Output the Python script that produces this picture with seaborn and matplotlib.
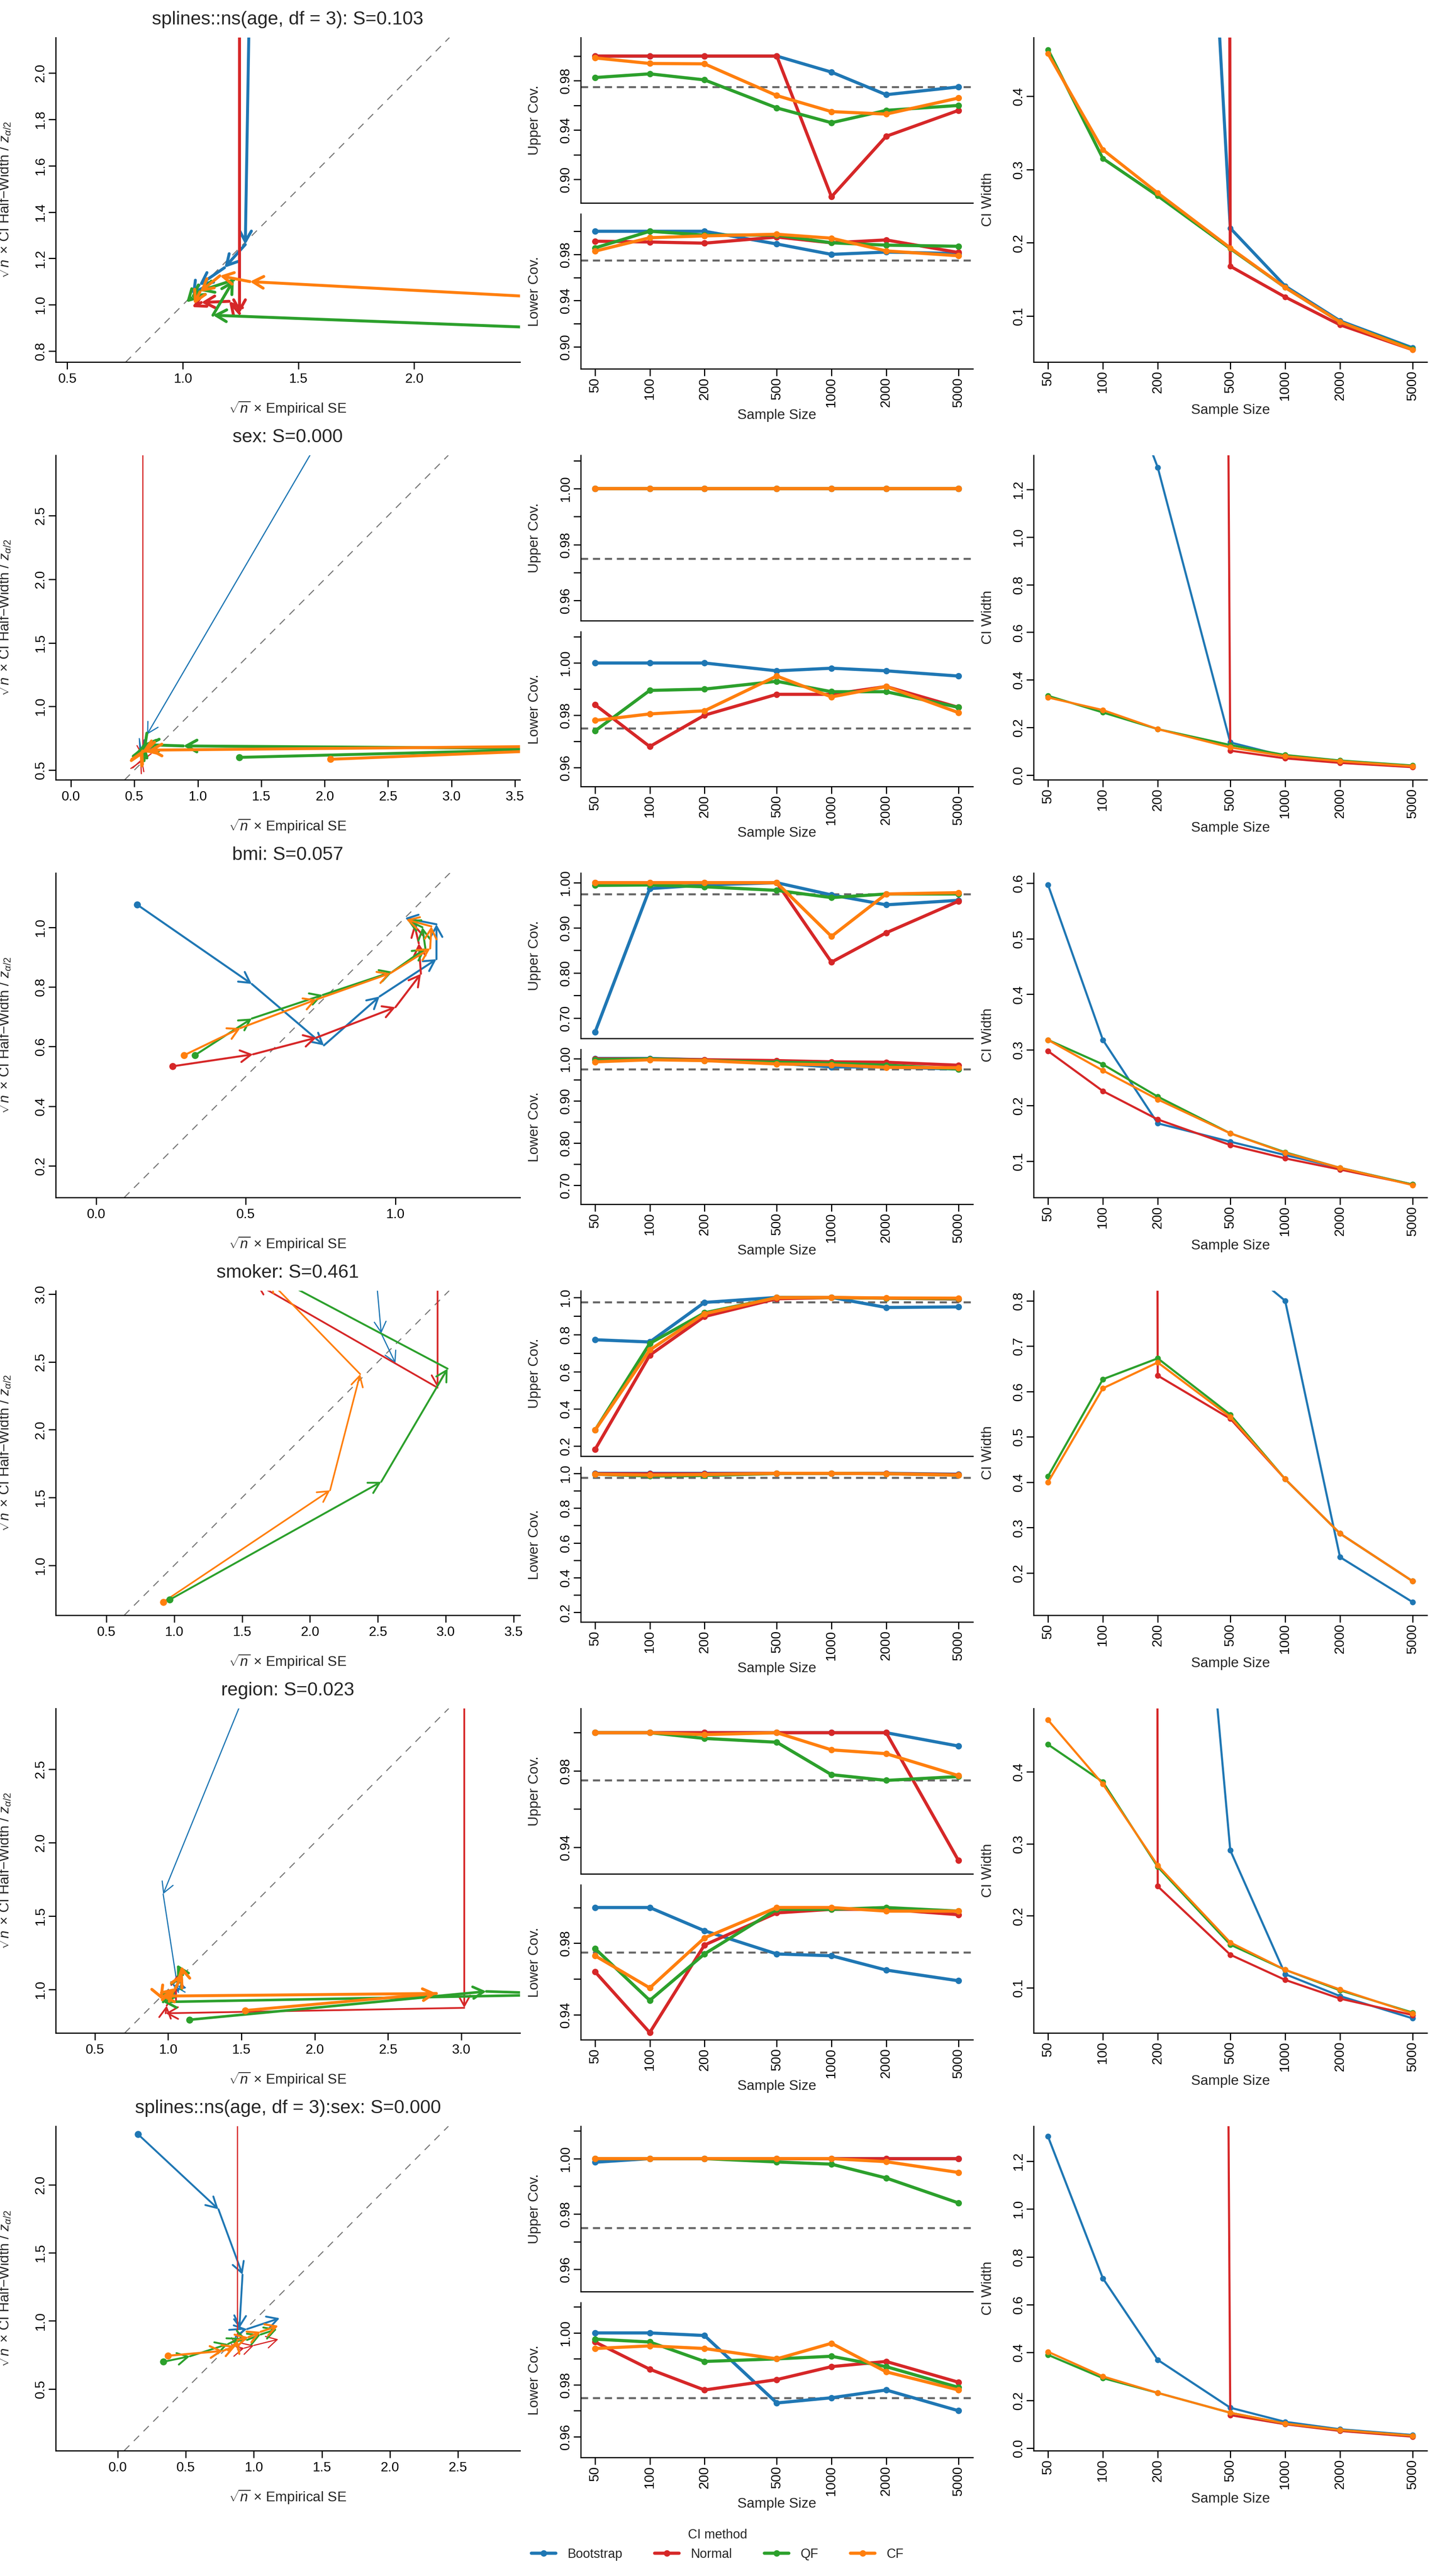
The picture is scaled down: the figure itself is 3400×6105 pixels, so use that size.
import numpy as np
import pandas as pd
import matplotlib
matplotlib.use("Agg")
import matplotlib.pyplot as plt
import matplotlib.ticker as mticker
from matplotlib.patches import FancyArrowPatch, ArrowStyle
from matplotlib.lines import Line2D
import seaborn as sns

sns.set_theme(style="ticks")
plt.rcParams["font.family"] = ["Liberation Sans", "DejaVu Sans"]
plt.rcParams["mathtext.fontset"] = "custom"
plt.rcParams["mathtext.rm"] = "Liberation Sans"
plt.rcParams["mathtext.it"] = "Liberation Sans:italic"

W, H, DPI = 3400, 6105, 100

sample_sizes = [50, 100, 200, 500, 1000, 2000, 5000]
methods = ["Bootstrap", "Normal", "QF", "CF"]
colors = {"Bootstrap": "#1f77b4", "Normal": "#d62728", "QF": "#2ca02c", "CF": "#ff7f0e"}

terms = ["splines::ns(age, df = 3)", "sex", "bmi", "smoker", "region",
         "splines::ns(age, df = 3):sex"]
s_values = [0.103, 0.000, 0.057, 0.461, 0.023, 0.000]

# ---- splines::ns(age, df = 3)
ns_se = {"Bootstrap": [1.40, 1.38, 1.37, 1.27, 1.18, 1.07, 1.04],
         "Normal": [1.245, 1.245, 1.245, 1.245, 1.20, 1.08, 1.04],
         "QF": [6.0, 5.2, 1.13, 1.22, 1.075, 1.035, 1.015],
         "CF": [4.5, 4.2, 3.8, 1.29, 1.16, 1.074, 1.048]}
ns_hw = {"Bootstrap": [12.0, 9.0, 7.2, 1.26, 1.16, 1.085, 1.044],
         "Normal": [60.0, 50.0, 40.0, 0.963, 1.015, 1.01, 0.99],
         "QF": [0.84, 0.80, 0.955, 1.107, 1.06, 1.03, 1.01],
         "CF": [0.83, 0.835, 0.967, 1.10, 1.125, 1.056, 1.003]}
ns_upper = {"Bootstrap": [1.0, 1.0, 1.0, 1.0, 0.987, 0.9687, 0.975],
            "Normal": [1.0, 1.0, 1.0, 1.0, 0.886, 0.935, 0.956],
            "QF": [0.9826, 0.9856, 0.9807, 0.958, 0.946, 0.956, 0.96],
            "CF": [0.9985, 0.994, 0.9937, 0.968, 0.955, 0.953, 0.966]}
ns_lower = {"Bootstrap": [1.0, 1.0, 1.0, 0.989, 0.98, 0.982, 0.9807],
            "Normal": [0.9914, 0.9907, 0.9897, 0.995, 0.990, 0.9925, 0.9816],
            "QF": [0.9856, 1.0, 0.9967, 0.9967, 0.990, 0.988, 0.987],
            "CF": [0.9828, 0.9944, 0.996, 0.9974, 0.994, 0.983, 0.9788]}
ns_width = {"Bootstrap": [6.0, 4.0, 2.0, 0.22, 0.141, 0.0935, 0.0567],
            "Normal": [50.0, 50.0, 50.0, 0.168, 0.126, 0.088, 0.054],
            "QF": [0.4635, 0.315, 0.264, 0.192, 0.139, 0.092, 0.055],
            "CF": [0.458, 0.327, 0.268, 0.193, 0.139, 0.092, 0.054]}

# ---- sex
sex_se = {"Bootstrap": [3.3, 3.1, 2.87, 0.60, 0.55, 0.545, 0.54],
          "Normal": [0.567, 0.567, 0.567, 0.567, 0.55, 0.555, 0.56],
          "QF": [1.326, 4.0, 0.886, 0.587, 0.57, 0.575, 0.58],
          "CF": [2.045, 4.8, 0.61, 0.57, 0.56, 0.565, 0.57]}
sex_hw = {"Bootstrap": [5.5, 4.85, 4.66, 0.78, 0.645, 0.64, 0.63],
          "Normal": [60.0, 50.0, 40.0, 0.60, 0.565, 0.575, 0.59],
          "QF": [0.60, 0.668, 0.69, 0.70, 0.678, 0.69, 0.71],
          "CF": [0.585, 0.696, 0.657, 0.645, 0.64, 0.65, 0.66]}
sex_upper = {"Bootstrap": [1.0, 1.0, 1.0, 1.0, 1.0, 1.0, 1.0],
             "Normal": [1.0, 1.0, 1.0, 1.0, 1.0, 1.0, 1.0],
             "QF": [1.0, 1.0, 1.0, 1.0, 1.0, 1.0, 1.0],
             "CF": [1.0, 1.0, 1.0, 1.0, 1.0, 1.0, 1.0]}
sex_lower = {"Bootstrap": [1.0, 1.0, 1.0, 0.997, 0.998, 0.997, 0.995],
             "Normal": [0.984, 0.968, 0.98, 0.988, 0.988, 0.991, 0.983],
             "QF": [0.974, 0.9895, 0.990, 0.993, 0.989, 0.989, 0.983],
             "CF": [0.978, 0.9805, 0.9817, 0.995, 0.987, 0.991, 0.981]}
sex_width = {"Bootstrap": [3.0, 1.9, 1.293, 0.137, 0.079, 0.056, 0.035],
             "Normal": [50.0, 50.0, 50.0, 0.1025, 0.07, 0.051, 0.033],
             "QF": [0.333, 0.263, 0.193, 0.126, 0.084, 0.061, 0.040],
             "CF": [0.326, 0.273, 0.193, 0.116, 0.079, 0.058, 0.037]}

# ---- bmi
bmi_se = {"Bootstrap": [0.137, 0.52, 0.761, 0.947, 1.137, 1.137, 1.032],
          "Normal": [0.256, 0.524, 0.736, 1.0, 1.085, 1.078, 1.063],
          "QF": [0.33, 0.52, 0.757, 0.99, 1.10, 1.09, 1.04],
          "CF": [0.294, 0.482, 0.736, 0.983, 1.116, 1.12, 1.036]}
bmi_hw = {"Bootstrap": [1.076, 0.81, 0.604, 0.768, 0.893, 1.01, 1.031],
          "Normal": [0.534, 0.574, 0.63, 0.732, 0.844, 0.946, 1.01],
          "QF": [0.571, 0.694, 0.773, 0.851, 0.929, 1.0, 1.024],
          "CF": [0.571, 0.662, 0.758, 0.846, 0.929, 1.003, 1.026]}
bmi_upper = {"Bootstrap": [0.669, 0.987, 0.995, 1.0, 0.973, 0.951, 0.961],
             "Normal": [1.0, 1.0, 1.0, 1.0, 0.824, 0.889, 0.959],
             "QF": [0.994, 0.995, 0.991, 0.983, 0.967, 0.975, 0.975],
             "CF": [1.0, 1.0, 1.0, 1.0, 0.881, 0.975, 0.978]}
bmi_lower = {"Bootstrap": [1.0, 1.0, 0.997, 0.989, 0.98, 0.98, 0.975],
             "Normal": [0.999, 0.999, 0.997, 0.995, 0.992, 0.991, 0.984],
             "QF": [0.997, 0.999, 0.995, 0.991, 0.989, 0.984, 0.975],
             "CF": [0.992, 0.997, 0.995, 0.987, 0.985, 0.979, 0.978]}
bmi_width = {"Bootstrap": [0.597, 0.318, 0.168, 0.135, 0.111, 0.088, 0.058],
             "Normal": [0.298, 0.226, 0.175, 0.129, 0.105, 0.085, 0.058],
             "QF": [0.318, 0.274, 0.216, 0.15, 0.116, 0.088, 0.058],
             "CF": [0.318, 0.263, 0.211, 0.15, 0.115, 0.088, 0.057]}

# ---- smoker
smoker_se = {"Bootstrap": [2.0, 2.05, 2.1, 2.15, 2.19, 2.525, 2.63],
             "Normal": [2.94, 2.94, 2.94, 1.6, 1.5, 1.45, 1.4],
             "QF": [0.966, 2.525, 3.014, 1.73, 1.6, 1.5, 1.45],
             "CF": [0.92, 2.148, 2.37, 1.70, 1.6, 1.5, 1.45]}
smoker_hw = {"Bootstrap": [9.0, 8.0, 7.0, 5.1, 6.45, 2.71, 2.49],
             "Normal": [60.0, 50.0, 2.31, 3.08, 3.28, 3.27, 3.28],
             "QF": [0.746, 1.616, 2.45, 3.13, 3.28, 3.27, 3.28],
             "CF": [0.73, 1.553, 2.41, 3.10, 3.28, 3.27, 3.28]}
smoker_upper = {"Bootstrap": [0.772, 0.76, 0.973, 1.0, 1.0, 0.946, 0.949],
                "Normal": [0.181, 0.689, 0.897, 0.993, 0.999, 0.996, 0.991],
                "QF": [0.285, 0.752, 0.917, 0.999, 0.999, 0.996, 0.993],
                "CF": [0.285, 0.717, 0.912, 0.999, 1.0, 0.997, 0.996]}
smoker_lower = {"Bootstrap": [1.0, 1.0, 1.0, 1.0, 1.0, 1.0, 0.995],
                "Normal": [0.998, 0.997, 0.997, 1.0, 1.0, 0.999, 0.993],
                "QF": [0.995, 0.985, 0.988, 0.999, 1.0, 0.998, 0.99],
                "CF": [0.995, 0.99, 0.993, 1.0, 1.0, 0.998, 0.99]}
smoker_width = {"Bootstrap": [2.5, 2.0, 1.6, 0.9, 0.80, 0.235, 0.136],
                "Normal": [50.0, 50.0, 0.635, 0.54, 0.407, 0.287, 0.182],
                "QF": [0.413, 0.627, 0.673, 0.549, 0.407, 0.287, 0.182],
                "CF": [0.40, 0.607, 0.664, 0.544, 0.407, 0.287, 0.182]}

# ---- region
region_se = {"Bootstrap": [2.6, 2.5, 2.37, 0.966, 1.07, 1.04, 1.125],
             "Normal": [3.02, 3.02, 3.02, 0.983, 0.99, 1.06, 1.07],
             "QF": [1.147, 3.17, 3.8, 0.966, 1.05, 1.10, 1.06],
             "CF": [1.526, 2.83, 0.95, 0.96, 1.05, 1.10, 1.09]}
region_hw = {"Bootstrap": [6.5, 6.0, 5.09, 1.65, 0.98, 1.03, 1.01],
             "Normal": [60.0, 50.0, 0.875, 0.838, 0.89, 1.015, 1.11],
             "QF": [0.794, 0.987, 0.967, 0.915, 1.01, 1.10, 1.17],
             "CF": [0.857, 0.973, 0.955, 0.93, 1.01, 1.11, 1.16]}
region_upper = {"Bootstrap": [1.0, 1.0, 1.0, 1.0, 1.0, 1.0, 0.993],
                "Normal": [1.0, 1.0, 1.0, 1.0, 1.0, 1.0, 0.933],
                "QF": [1.0, 1.0, 0.997, 0.995, 0.978, 0.975, 0.977],
                "CF": [1.0, 1.0, 0.999, 1.0, 0.991, 0.989, 0.9775]}
region_lower = {"Bootstrap": [1.0, 1.0, 0.987, 0.974, 0.973, 0.965, 0.959],
                "Normal": [0.964, 0.930, 0.979, 0.997, 0.999, 0.999, 0.996],
                "QF": [0.977, 0.948, 0.974, 0.999, 0.999, 1.0, 0.998],
                "CF": [0.973, 0.955, 0.983, 1.0, 1.0, 0.998, 0.998]}
region_width = {"Bootstrap": [3.0, 2.5, 1.41, 0.291, 0.119, 0.0885, 0.0576],
                "Normal": [50.0, 50.0, 0.241, 0.146, 0.111, 0.085, 0.0622],
                "QF": [0.438, 0.386, 0.268, 0.16, 0.125, 0.0965, 0.0656],
                "CF": [0.472, 0.383, 0.27, 0.163, 0.125, 0.0977, 0.0645]}

# ---- splines::ns(age, df = 3):sex
nssex_se = {"Bootstrap": [0.15, 0.74, 0.917, 0.894, 0.92, 0.95, 1.19],
            "Normal": [0.88, 0.88, 0.88, 0.88, 0.93, 1.0, 1.18],
            "QF": [0.335, 0.53, 0.81, 0.90, 0.95, 1.05, 1.17],
            "CF": [0.368, 0.773, 0.866, 0.88, 0.96, 1.05, 1.18]}
nssex_hw = {"Bootstrap": [2.37, 1.82, 1.34, 0.947, 0.935, 0.94, 1.02],
            "Normal": [60.0, 50.0, 40.0, 0.79, 0.80, 0.82, 0.865],
            "QF": [0.70, 0.74, 0.83, 0.875, 0.86, 0.90, 0.94],
            "CF": [0.744, 0.78, 0.815, 0.86, 0.88, 0.92, 0.965]}
nssex_upper = {"Bootstrap": [0.9987, 1.0, 1.0, 1.0, 1.0, 1.0, 1.0],
               "Normal": [1.0, 1.0, 1.0, 1.0, 1.0, 1.0, 1.0],
               "QF": [1.0, 1.0, 1.0, 0.9988, 0.998, 0.993, 0.984],
               "CF": [1.0, 1.0, 1.0, 1.0, 1.0, 0.9989, 0.995]}
nssex_lower = {"Bootstrap": [1.0, 1.0, 0.999, 0.973, 0.975, 0.978, 0.970],
               "Normal": [0.9965, 0.986, 0.978, 0.982, 0.987, 0.989, 0.981],
               "QF": [0.9976, 0.9965, 0.989, 0.990, 0.991, 0.987, 0.979],
               "CF": [0.994, 0.995, 0.994, 0.990, 0.996, 0.985, 0.978]}
nssex_width = {"Bootstrap": [1.303, 0.71, 0.369, 0.169, 0.110, 0.079, 0.055],
               "Normal": [50.0, 50.0, 50.0, 0.138, 0.10, 0.072, 0.048],
               "QF": [0.39, 0.293, 0.231, 0.148, 0.103, 0.076, 0.052],
               "CF": [0.403, 0.30, 0.231, 0.148, 0.103, 0.076, 0.052]}

panels = [
    (ns_se, ns_hw, ns_upper, ns_lower, ns_width),
    (sex_se, sex_hw, sex_upper, sex_lower, sex_width),
    (bmi_se, bmi_hw, bmi_upper, bmi_lower, bmi_width),
    (smoker_se, smoker_hw, smoker_upper, smoker_lower, smoker_width),
    (region_se, region_hw, region_upper, region_lower, region_width),
    (nssex_se, nssex_hw, nssex_upper, nssex_lower, nssex_width),
]

# ---- per-row axis settings
left_xlim = [(0.45, 2.458), (-0.12, 3.54), (-0.135, 1.416),
             (0.127, 3.547), (0.233, 3.40), (-0.456, 2.956)]
left_ylim = [(0.753, 2.153), (0.424, 2.975), (0.094, 1.182),
             (0.632, 3.025), (0.704, 2.914), (0.047, 2.43)]
left_xticks = [[0.5, 1.0, 1.5, 2.0], [0, 0.5, 1, 1.5, 2, 2.5, 3, 3.5], [0, 0.5, 1.0],
               [0.5, 1, 1.5, 2, 2.5, 3, 3.5], [0.5, 1, 1.5, 2, 2.5, 3], [0, 0.5, 1, 1.5, 2, 2.5]]
left_yticks = [[0.8, 1.0, 1.2, 1.4, 1.6, 1.8, 2.0], [0.5, 1.0, 1.5, 2.0, 2.5],
               [0.2, 0.4, 0.6, 0.8, 1.0], [1.0, 1.5, 2.0, 2.5, 3.0],
               [1.0, 1.5, 2.0, 2.5], [0.5, 1.0, 1.5, 2.0]]
arrow_lw = [
    {"Bootstrap": 5, "Normal": 5, "QF": 5, "CF": 5},
    {"Bootstrap": 2, "Normal": 2, "QF": 5, "CF": 5},
    {"Bootstrap": 3.4, "Normal": 3.4, "QF": 3.4, "CF": 3.4},
    {"Bootstrap": 2, "Normal": 3, "QF": 3.2, "CF": 2.8},
    {"Bootstrap": 2, "Normal": 3, "QF": 4.4, "CF": 5},
    {"Bootstrap": 3.2, "Normal": 2, "QF": 3.2, "CF": 3.6},
]
width_lw = [5.2, 3.6, 3.6, 3.6, 3.6, 3.6]

cov_ylim = [(0.881, 1.015), (0.9527, 1.012), (0.655, 1.0215),
            (0.145, 1.036), (0.926, 1.0127), (0.952, 1.0117)]
cov_ticks = [
    ([0.90, 0.92, 0.94, 0.96, 0.98, 1.00], ["0.90", "", "0.94", "", "0.98", ""]),
    ([0.96, 0.97, 0.98, 0.99, 1.00, 1.01], ["0.96", "", "0.98", "", "1.00", ""]),
    ([0.70, 0.75, 0.80, 0.85, 0.90, 0.95, 1.00], ["0.70", "", "0.80", "", "0.90", "", "1.00"]),
    ([0.2, 0.3, 0.4, 0.5, 0.6, 0.7, 0.8, 0.9, 1.0], ["0.2", "", "0.4", "", "0.6", "", "0.8", "", "1.0"]),
    ([0.94, 0.96, 0.98, 1.00], ["0.94", "", "0.98", ""]),
    ([0.96, 0.97, 0.98, 0.99, 1.00, 1.01], ["0.96", "", "0.98", "", "1.00", ""]),
]
width_ylim = [(0.0373, 0.48), (-0.02, 1.344), (0.0347, 0.618),
              (0.107, 0.822), (0.0373, 0.488), (-0.0106, 1.346)]
width_ticks = [[0.1, 0.2, 0.3, 0.4], [0.0, 0.2, 0.4, 0.6, 0.8, 1.0, 1.2],
               [0.1, 0.2, 0.3, 0.4, 0.5, 0.6], [0.2, 0.3, 0.4, 0.5, 0.6, 0.7, 0.8],
               [0.1, 0.2, 0.3, 0.4], [0.0, 0.2, 0.4, 0.6, 0.8, 1.0, 1.2]]

TICK = 23
LAB = 24


def add_px_axes(fig, left, top, width, height):
    return fig.add_axes([left / W, 1 - (top + height) / H, width / W, height / H])


def style_axes(ax):
    sns.despine(ax=ax)
    for side in ["left", "bottom"]:
        ax.spines[side].set_linewidth(2.0)
        ax.spines[side].set_color("black")
    ax.tick_params(direction="out", length=12, width=2.0, labelsize=TICK,
                   colors="black", pad=2.5)
    ax.tick_params(axis="y", labelrotation=90)
    for lab in ax.get_yticklabels():
        lab.set_va("center")


def long_frame(d):
    rows = []
    for m in methods:
        for n, v in zip(sample_sizes, d[m]):
            rows.append({"n": n, "method": m, "value": v})
    return pd.DataFrame(rows)


def draw_lines(ax, d, lw, ms):
    sns.lineplot(data=long_frame(d), x="n", y="value", hue="method",
                 hue_order=methods, palette=colors, marker="o", markersize=ms,
                 markeredgewidth=0, linewidth=lw, estimator=None, sort=False,
                 legend=False, ax=ax)
    ax.set_xscale("log")
    ax.set_xlim(41.7, 6000)
    ax.set_xticks(sample_sizes)
    ax.xaxis.set_minor_locator(mticker.NullLocator())


def fmt(v, nd):
    return f"{v:.{nd}f}"


head = ArrowStyle("->", head_length=18, head_width=10)

fig = plt.figure(figsize=(W / DPI, H / DPI), dpi=DPI)

for r, (se, hw, upper, lower, width) in enumerate(panels):
    top = 89 + 990 * r

    # ---- arrow panel
    ax = add_px_axes(fig, 132, top, 1100, 769)
    ax.axline((0, 0), (1, 1), color="#777777", lw=1.8, linestyle=(0, (7, 6)), zorder=1)
    for m in methods:
        xs, ys = se[m], hw[m]
        for i in range(len(xs) - 1):
            arr = FancyArrowPatch((xs[i], ys[i]), (xs[i + 1], ys[i + 1]),
                                  arrowstyle=head, mutation_scale=1,
                                  color=colors[m], lw=arrow_lw[r][m],
                                  shrinkA=0, shrinkB=0, zorder=2)
            ax.add_patch(arr)
        ax.plot([xs[0]], [ys[0]], "o", color=colors[m], ms=12, mew=0, zorder=3)
    ax.set_xlim(*left_xlim[r])
    ax.set_ylim(*left_ylim[r])
    ax.set_xticks(left_xticks[r], [fmt(v, 1) for v in left_xticks[r]])
    ax.set_yticks(left_yticks[r], [fmt(v, 1) for v in left_yticks[r]])
    style_axes(ax)
    ax.tick_params(axis="x", pad=7)
    ax.set_xlabel(r"$\sqrt{n}$ × Empirical SE", fontsize=LAB)
    ax.set_ylabel(r"$\sqrt{n}$ × CI Half−Width / $z_{\alpha/2}$", fontsize=LAB)
    ax.xaxis.set_label_coords(0.5, -0.116)
    ax.yaxis.set_label_coords(-0.094, 0.5)
    ax.set_title(f"{terms[r]}: S={s_values[r]:.3f}", fontsize=32, pad=22)

    # ---- coverage panels
    ticks, labels = cov_ticks[r]
    for k, (d, name) in enumerate([(upper, "Upper Cov."), (lower, "Lower Cov.")]):
        if k == 0:
            axc = add_px_axes(fig, 1376, top, 929, 392)
        else:
            axc = add_px_axes(fig, 1376, top + 418, 929, 367)
        axc.axhline(0.975, color="#666666", lw=3.4, linestyle=(0, (3.6, 2.4)), zorder=1)
        draw_lines(axc, d, 5.4, 11)
        axc.set_ylim(*cov_ylim[r])
        axc.set_yticks(ticks, labels)
        style_axes(axc)
        axc.set_ylabel(name, fontsize=LAB)
        axc.yaxis.set_label_coords(-0.101, 0.5)
        if k == 0:
            axc.tick_params(axis="x", bottom=False, labelbottom=False)
            axc.set_xlabel("")
        else:
            axc.set_xticklabels([str(n) for n in sample_sizes], rotation=90)
            axc.set_xlabel("Sample Size", fontsize=LAB)
            axc.xaxis.set_label_coords(0.5, -0.259)

    # ---- CI width panel
    axw = add_px_axes(fig, 2449, top, 932, 769)
    draw_lines(axw, width, width_lw[r], 10)
    axw.set_ylim(*width_ylim[r])
    axw.set_yticks(width_ticks[r], [fmt(v, 1) for v in width_ticks[r]])
    style_axes(axw)
    axw.set_xticklabels([str(n) for n in sample_sizes], rotation=90)
    axw.set_xlabel("Sample Size", fontsize=LAB)
    axw.set_ylabel("CI Width", fontsize=LAB)
    axw.xaxis.set_label_coords(0.5, -0.129)
    axw.yaxis.set_label_coords(-0.0998, 0.5)

handles = [Line2D([], [], color=colors[m], lw=5.4, marker="o", ms=11, mew=0)
           for m in methods]
fig.legend(handles, methods, loc="upper center", bbox_to_anchor=(0.5, 1 - 5978 / H),
           ncol=4, frameon=False, title="CI method", fontsize=22, title_fontsize=22,
           handlelength=1.9, handletextpad=0.9, columnspacing=2.5, borderpad=0)

fig.savefig("out.png", dpi=DPI)
